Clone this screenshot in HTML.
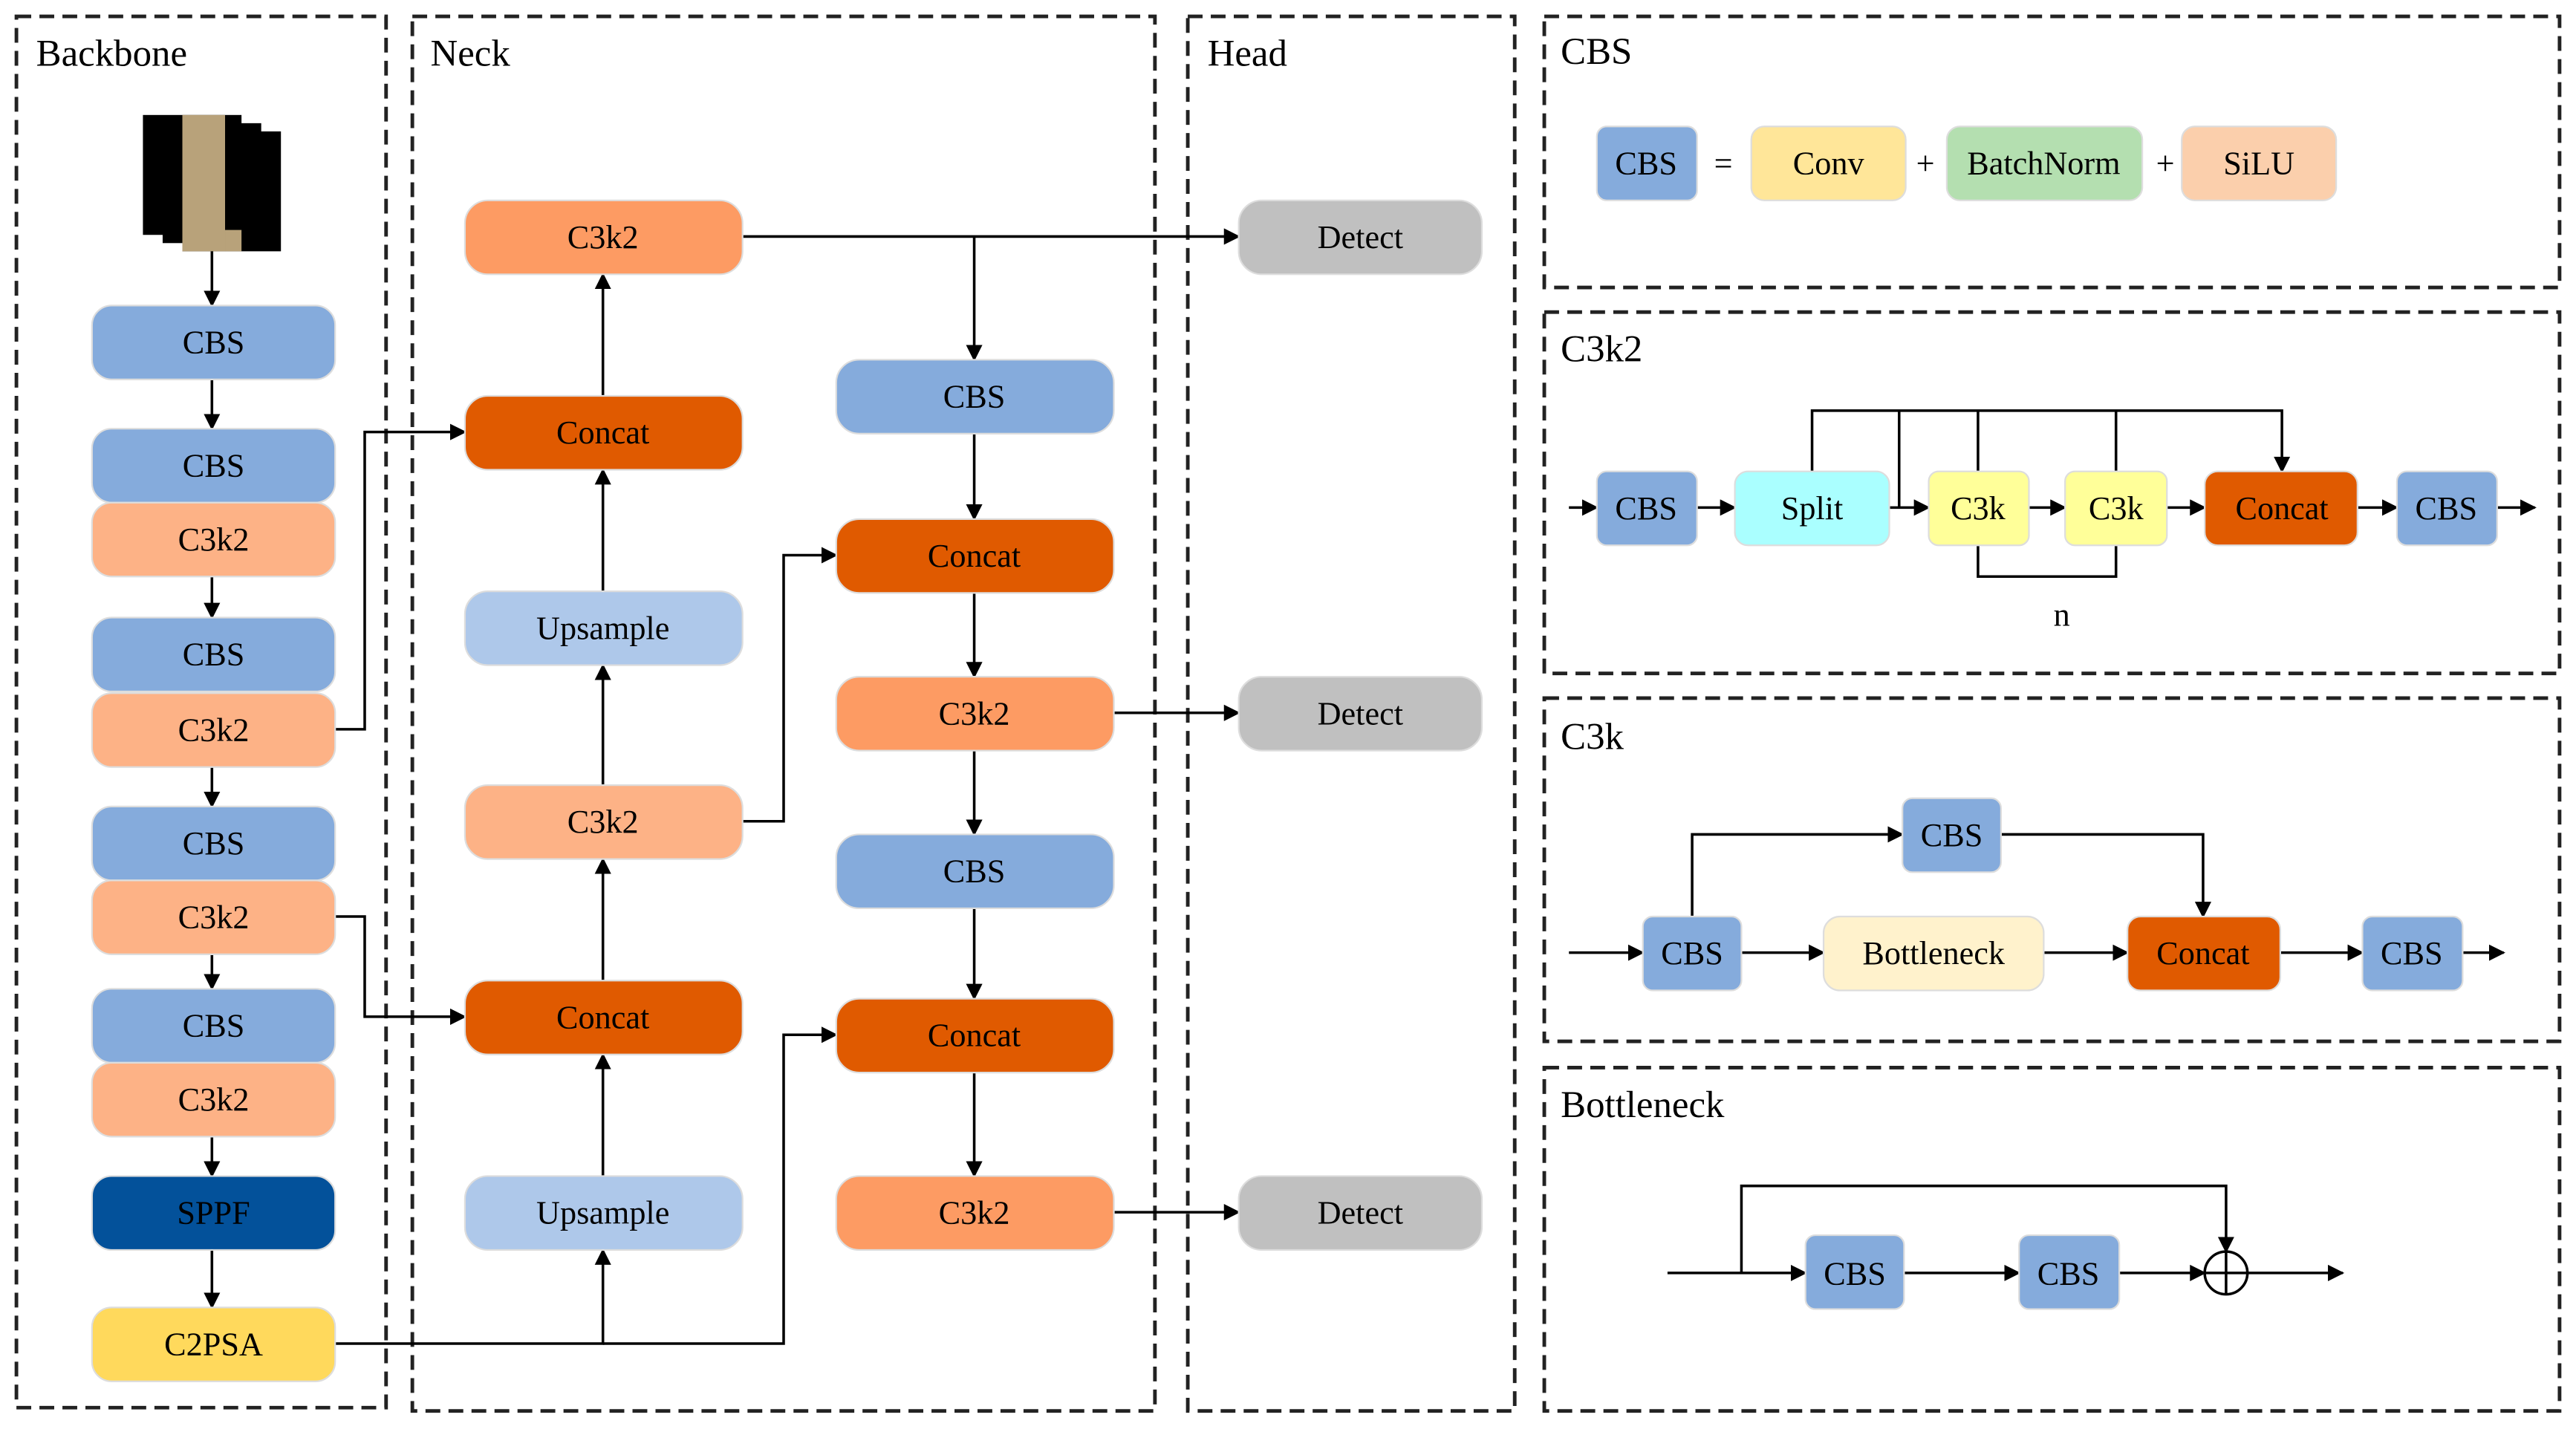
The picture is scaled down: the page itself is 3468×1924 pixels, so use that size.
<!DOCTYPE html>
<html><head><meta charset="utf-8"><style>html,body{margin:0;padding:0;background:#fff}svg{display:block}svg text{font-family:"Liberation Serif",serif}</style></head><body>
<svg width="3468" height="1924" viewBox="0 0 1568 870" preserveAspectRatio="none" xmlns="http://www.w3.org/2000/svg" style="font-family:'Liberation Serif',serif">
<defs>
<marker id="a" markerWidth="10" markerHeight="10" refX="9" refY="5" orient="auto" markerUnits="userSpaceOnUse"><path d="M0,0 L10,5 L0,10 z" fill="#000"/></marker>
</defs>
<g fill="none" stroke="#222" stroke-width="2.2" stroke-dasharray="9,5">
<rect x="10" y="10" width="225" height="847"/>
<rect x="251" y="10" width="452" height="849"/>
<rect x="723" y="10" width="199" height="849"/>
<rect x="940" y="10" width="618" height="165"/>
<rect x="940" y="190" width="618" height="220"/>
<rect x="940" y="425" width="618" height="209"/>
<rect x="940" y="650" width="618" height="209"/>
</g>
<g font-size="23" fill="#000" style="font-family:'Liberation Serif',serif">
<text x="22" y="40">Backbone</text><text x="262" y="40">Neck</text><text x="735" y="40">Head</text>
<text x="950" y="39">CBS</text><text x="950" y="220">C3k2</text><text x="950" y="456">C3k</text><text x="950" y="680">Bottleneck</text>
</g>
<rect x="111" y="80" width="60" height="73" fill="#000"/>
<rect x="99" y="75" width="60" height="73" fill="#000"/>
<rect x="87" y="70" width="60" height="73" fill="#000"/>
<rect x="111" y="70" width="26" height="83" fill="#b8a27a"/>
<rect x="137" y="140" width="10" height="13" fill="#b8a27a"/>
<g stroke="#000" stroke-width="1.6" fill="none" marker-end="url(#a)">
<line x1="129" y1="153" x2="129" y2="186"/>
<line x1="129" y1="231" x2="129" y2="261"/>
<line x1="129" y1="351" x2="129" y2="376"/>
<line x1="129" y1="467" x2="129" y2="491"/>
<line x1="129" y1="581" x2="129" y2="602"/>
<line x1="129" y1="692" x2="129" y2="716"/>
<line x1="129" y1="761" x2="129" y2="796"/>
<polyline points="204,444 222,444 222,263 283,263"/>
<polyline points="204,558 222,558 222,619 283,619"/>
<polyline points="204,818 367,818 367,761"/>
<polyline points="367,818 477,818 477,630 509,630"/>
<line x1="367" y1="241" x2="367" y2="167"/>
<line x1="367" y1="360" x2="367" y2="286"/>
<line x1="367" y1="478" x2="367" y2="405"/>
<line x1="367" y1="597" x2="367" y2="523"/>
<line x1="367" y1="716" x2="367" y2="642"/>
<polyline points="452,500 477,500 477,338 509,338"/>
<line x1="452" y1="144" x2="754" y2="144"/>
<line x1="593" y1="144" x2="593" y2="219"/>
<line x1="593" y1="264" x2="593" y2="316"/>
<line x1="593" y1="361" x2="593" y2="412"/>
<line x1="593" y1="457" x2="593" y2="508"/>
<line x1="593" y1="553" x2="593" y2="608"/>
<line x1="593" y1="653" x2="593" y2="716"/>
<line x1="678" y1="434" x2="754" y2="434"/>
<line x1="678" y1="738" x2="754" y2="738"/>
<line x1="955" y1="309" x2="972" y2="309"/>
<line x1="1033" y1="309" x2="1056" y2="309"/>
<line x1="1150" y1="309" x2="1174" y2="309"/>
<line x1="1235" y1="309" x2="1257" y2="309"/>
<line x1="1319" y1="309" x2="1342" y2="309"/>
<line x1="1435" y1="309" x2="1459" y2="309"/>
<line x1="1520" y1="309" x2="1543" y2="309"/>
<polyline points="1103,287 1103,250 1389,250 1389,287"/>
<line x1="955" y1="580" x2="1000" y2="580"/>
<line x1="1060" y1="580" x2="1110" y2="580"/>
<line x1="1244" y1="580" x2="1295" y2="580"/>
<line x1="1388" y1="580" x2="1438" y2="580"/>
<line x1="1499" y1="580" x2="1524" y2="580"/>
<polyline points="1030,558 1030,508 1158,508"/>
<polyline points="1218,508 1341,508 1341,558"/>
<line x1="1015" y1="775" x2="1099" y2="775"/>
<line x1="1159" y1="775" x2="1229" y2="775"/>
<line x1="1290" y1="775" x2="1342" y2="775"/>
<line x1="1368" y1="775" x2="1426" y2="775"/>
<polyline points="1060,775 1060,722 1355,722 1355,762"/>
</g>
<g stroke="#000" stroke-width="1.6" fill="none">
<line x1="1156" y1="250" x2="1156" y2="309"/>
<line x1="1204" y1="250" x2="1204" y2="287"/>
<line x1="1288" y1="250" x2="1288" y2="287"/>
<polyline points="1204,332 1204,351 1288,351 1288,332"/>
<circle cx="1355" cy="775" r="13"/>
<line x1="1342" y1="775" x2="1368" y2="775"/><line x1="1355" y1="762" x2="1355" y2="788"/>
</g>
<text x="1255" y="381" font-size="20" text-anchor="middle" style="font-family:'Liberation Serif',serif">n</text>
<g stroke="#ddd" stroke-width="1">
<rect x="56" y="186" width="148" height="45" rx="12" fill="#85abdc"/>
<rect x="56" y="261" width="148" height="45" rx="12" fill="#85abdc"/>
<rect x="56" y="306" width="148" height="45" rx="12" fill="#fdb286"/>
<rect x="56" y="376" width="148" height="45" rx="12" fill="#85abdc"/>
<rect x="56" y="422" width="148" height="45" rx="12" fill="#fdb286"/>
<rect x="56" y="491" width="148" height="45" rx="12" fill="#85abdc"/>
<rect x="56" y="536" width="148" height="45" rx="12" fill="#fdb286"/>
<rect x="56" y="602" width="148" height="45" rx="12" fill="#85abdc"/>
<rect x="56" y="647" width="148" height="45" rx="12" fill="#fdb286"/>
<rect x="56" y="716" width="148" height="45" rx="12" fill="#03519a"/>
<rect x="56" y="796" width="148" height="45" rx="12" fill="#ffd95c"/>
<rect x="283" y="122" width="169" height="45" rx="14" fill="#fd9b63"/>
<rect x="283" y="241" width="169" height="45" rx="14" fill="#e05a00"/>
<rect x="283" y="360" width="169" height="45" rx="14" fill="#aec8ea"/>
<rect x="283" y="478" width="169" height="45" rx="14" fill="#fdb286"/>
<rect x="283" y="597" width="169" height="45" rx="14" fill="#e05a00"/>
<rect x="283" y="716" width="169" height="45" rx="14" fill="#aec8ea"/>
<rect x="509" y="219" width="169" height="45" rx="14" fill="#85abdc"/>
<rect x="509" y="316" width="169" height="45" rx="14" fill="#e05a00"/>
<rect x="509" y="412" width="169" height="45" rx="14" fill="#fd9b63"/>
<rect x="509" y="508" width="169" height="45" rx="14" fill="#85abdc"/>
<rect x="509" y="608" width="169" height="45" rx="14" fill="#e05a00"/>
<rect x="509" y="716" width="169" height="45" rx="14" fill="#fd9b63"/>
<rect x="754" y="122" width="148" height="45" rx="14" fill="#c0c0c0"/>
<rect x="754" y="412" width="148" height="45" rx="14" fill="#c0c0c0"/>
<rect x="754" y="716" width="148" height="45" rx="14" fill="#c0c0c0"/>
<rect x="972" y="77" width="61" height="45" rx="6" fill="#85abdc"/>
<rect x="1066" y="77" width="94" height="45" rx="8" fill="#ffe699"/>
<rect x="1185" y="77" width="119" height="45" rx="8" fill="#b4dfb0"/>
<rect x="1328" y="77" width="94" height="45" rx="8" fill="#fbcfac"/>
<rect x="972" y="287" width="61" height="45" rx="6" fill="#85abdc"/>
<rect x="1056" y="287" width="94" height="45" rx="8" fill="#aaffff"/>
<rect x="1174" y="287" width="61" height="45" rx="6" fill="#ffff99"/>
<rect x="1257" y="287" width="62" height="45" rx="6" fill="#ffff99"/>
<rect x="1342" y="287" width="93" height="45" rx="8" fill="#e05a00"/>
<rect x="1459" y="287" width="61" height="45" rx="6" fill="#85abdc"/>
<rect x="1158" y="486" width="60" height="45" rx="6" fill="#85abdc"/>
<rect x="1000" y="558" width="60" height="45" rx="6" fill="#85abdc"/>
<rect x="1110" y="558" width="134" height="45" rx="10" fill="#fff2cc"/>
<rect x="1295" y="558" width="93" height="45" rx="8" fill="#e05a00"/>
<rect x="1438" y="558" width="61" height="45" rx="6" fill="#85abdc"/>
<rect x="1099" y="752" width="60" height="45" rx="6" fill="#85abdc"/>
<rect x="1229" y="752" width="61" height="45" rx="6" fill="#85abdc"/>
</g>
<g font-size="20" text-anchor="middle" fill="#000" style="font-family:'Liberation Serif',serif">
<text x="130" y="215">CBS</text><text x="130" y="290">CBS</text><text x="130" y="335">C3k2</text>
<text x="130" y="405">CBS</text><text x="130" y="451">C3k2</text><text x="130" y="520">CBS</text>
<text x="130" y="565">C3k2</text><text x="130" y="631">CBS</text><text x="130" y="676">C3k2</text>
<text x="130" y="745">SPPF</text><text x="130" y="825">C2PSA</text>
<text x="367" y="151">C3k2</text><text x="367" y="270">Concat</text><text x="367" y="389">Upsample</text>
<text x="367" y="507">C3k2</text><text x="367" y="626">Concat</text><text x="367" y="745">Upsample</text>
<text x="593" y="248">CBS</text><text x="593" y="345">Concat</text><text x="593" y="441">C3k2</text>
<text x="593" y="537">CBS</text><text x="593" y="637">Concat</text><text x="593" y="745">C3k2</text>
<text x="828" y="151">Detect</text><text x="828" y="441">Detect</text><text x="828" y="745">Detect</text>
<text x="1002" y="106">CBS</text><text x="1049" y="106">=</text><text x="1113" y="106">Conv</text>
<text x="1172" y="106">+</text><text x="1244" y="106">BatchNorm</text><text x="1318" y="106">+</text><text x="1375" y="106">SiLU</text>
<text x="1002" y="316">CBS</text><text x="1103" y="316">Split</text><text x="1204" y="316">C3k</text>
<text x="1288" y="316">C3k</text><text x="1389" y="316">Concat</text><text x="1489" y="316">CBS</text>
<text x="1188" y="515">CBS</text><text x="1030" y="587">CBS</text><text x="1177" y="587">Bottleneck</text>
<text x="1341" y="587">Concat</text><text x="1468" y="587">CBS</text>
<text x="1129" y="782">CBS</text><text x="1259" y="782">CBS</text>
</g>
</svg>
</body></html>
